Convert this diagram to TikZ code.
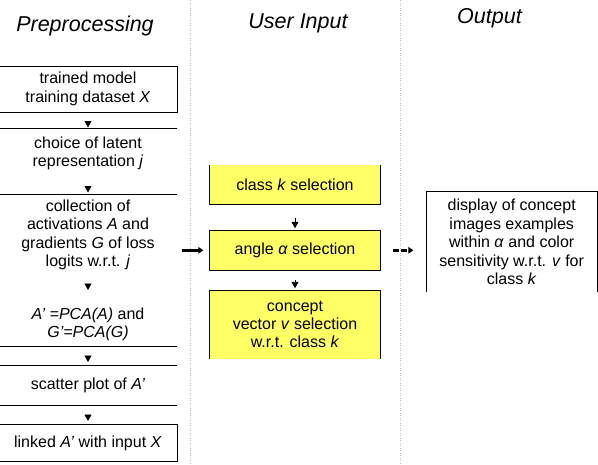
\documentclass[tikz,border=0pt]{standalone}
\usepackage{fontspec}
\setmainfont{Liberation Sans}
\usepackage{xcolor}
\usepackage{tikz}
\usetikzlibrary{arrows.meta}

\definecolor{boxyellow}{RGB}{255,255,102}
\newcommand{\bodyfont}{\fontsize{16pt}{18.4pt}\selectfont}
\newcommand{\headfont}{\fontsize{21.5pt}{24pt}\selectfont\itshape}

\begin{document}
\begin{tikzpicture}[x=1pt, y=-1pt, line width=0.9pt,
    box/.style={rectangle, inner sep=0pt, outer sep=0pt, align=center, font=\bodyfont,
                minimum width=178pt},
    ybox/.style={box, fill=boxyellow, minimum width=171.4pt},
    head/.style={inner sep=0pt, font=\headfont},
    tip/.style={-{Triangle[width=7pt, length=6.5pt]}},
    bold/.style={line width=2.8pt, -{Triangle[width=6.5pt, length=5pt]}},
    divider/.style={draw=black!25, line width=0.8pt, dash pattern=on 1pt off 1.5pt}]
    \useasboundingbox (0,0) rectangle (598,464);

    \node[head] (pre) at (85,26) {Preprocessing};
    \node[head] (usr) at (298,23.5) {User Input};
    \node[head] (res) at (489.5,18.5) {Output};

    \draw[divider] (190.7,0) -- (190.7,464);
    \draw[divider] (400.3,0) -- (400.3,464);

    \node[box, minimum height=46pt] (train) at (88,89) {trained model\\training dataset \textit{X}};
    \node[box, minimum height=51pt] (latent) at (88,153.5) {choice of latent\\representation \textit{j}};
    \node[box, minimum height=81.4pt] (collect) at (88,234.7) {collection of\\activations \textit{A} and\\gradients \textit{G} of loss\\logits w.r.t. \textit{j}};
    \node[box, minimum height=45pt] (pca) at (88,324.2) {\textit{A' =PCA(A)} and\\\textit{G'=PCA(G)}};
    \node[box, minimum height=40pt] (scatter) at (88,385.3) {scatter plot of \textit{A'}};
    \node[box, minimum height=36.6pt] (linked) at (88,443) {linked \textit{A'} with input \textit{X}};

    \draw (train.north west) -- (train.north east) -- (train.south east) -- (train.south west);
    \draw (latent.north west) -- (latent.north east);
    \draw (collect.north west) -- (collect.north east);
    \draw (pca.south west) -- (pca.south east);
    \draw (scatter.north west) -- (scatter.north east);
    \draw (scatter.south west) -- (scatter.south east);
    \draw (linked.north west) -- (linked.north east) -- (linked.south east) -- (linked.south west);

    \draw[tip, shorten <=9pt, shorten >=0.5pt] (train) -- (latent);
    \draw[tip, shorten <=7pt, shorten >=1.5pt] (latent) -- (collect);
    \draw[tip, shorten <=8.1pt, shorten >=11.7pt] (collect) -- (pca);
    \draw[tip, shorten <=8.8pt, shorten >=3.3pt] (pca) -- (scatter);
    \draw[tip, shorten <=9.2pt, shorten >=3.7pt] (scatter) -- (linked);

    \node[ybox, minimum height=39pt] (cls) at (295,184.5) {class \textit{k} selection};
    \node[ybox, draw, minimum height=40.7pt] (angle) at (295,250.3) {angle \textit{α} selection};
    \node[ybox, minimum height=69pt] (vec) at (295,324.5) {concept\\vector \textit{v} selection\\w.r.t. class \textit{k}};

    \draw (cls.north west) -- (cls.south west) -- (cls.south east) -- (cls.north east);
    \draw (vec.south west) -- (vec.north west) -- (vec.north east) -- (vec.south east);

    \draw[tip, shorten <=14pt, shorten >=1.7pt] (cls) -- (angle);
    \draw[tip, shorten <=9pt, shorten >=1.7pt] (angle) -- (vec);

    \node[box, minimum width=171.3pt, minimum height=100.3pt] (out) at (511.7,241.9)
        {display of concept\\images examples\\within \textit{α} and color\\sensitivity w.r.t. \textit{v} for\\class \textit{k}};
    \draw (out.south west) -- (out.north west) -- (out.north east) -- (out.south east);

    \draw[bold, shorten <=4.7pt, shorten >=6pt] (collect.east |- angle.west) -- (angle.west);
    \draw[bold, dash pattern=on 6pt off 2pt, shorten <=12.6pt, shorten >=12.7pt] (angle.east) -- (angle.east -| out.west);
\end{tikzpicture}
\end{document}
